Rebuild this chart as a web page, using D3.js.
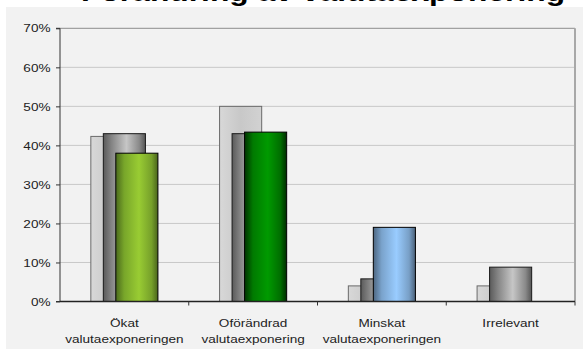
<!DOCTYPE html>
<html>
<head>
<meta charset="utf-8">
<script src="https://cdn.jsdelivr.net/npm/d3@7"></script>
<style>
  html, body { margin: 0; padding: 0; background: #ffffff; }
  svg { display: block; font-family: Arial, "Liberation Sans", sans-serif; }
</style>
</head>
<body>
<svg id="chart" width="583" height="352"></svg>
<script>
// Chart data
const title = "Förändring av valutaexponering";
const categories = ["Ökat valutaexponeringen", "Oförändrad valutaexponering", "Minskat valutaexponeringen", "Irrelevant"];
const categoryLines = [
  ["Ökat", "valutaexponeringen"],
  ["Oförändrad", "valutaexponering"],
  ["Minskat", "valutaexponeringen"],
  ["Irrelevant"]
];
const seriesNames = ["s1", "s2", "s3"];
const series1 = [0.423, 0.50, 0.04, 0.04];
const series2 = [0.43, 0.43, 0.058, 0.088];
const series3 = [0.38, 0.434, 0.19, 0];
const yTicks = [0, 0.1, 0.2, 0.3, 0.4, 0.5, 0.6, 0.7];

const svg = d3.select("#chart");
const W = 583, H = 352;
const plot = { left: 60, right: 575, top: 28.3, bottom: 301.5 };

// Gradients (cylinder shading, dark at both edges)
const defs = svg.append("defs");
function grad(id, stops) {
  const g = defs.append("linearGradient").attr("id", id)
    .attr("x1", "0%").attr("x2", "100%").attr("y1", "0%").attr("y2", "0%");
  stops.forEach(([o, c]) => g.append("stop").attr("offset", o).attr("stop-color", c));
}
grad("gLight", [[0, "#d8d8d8"], [0.5, "#c8c8c8"], [1, "#d2d2d2"]]);
grad("gGray", [[0, "#5a5a5a"], [0.2, "#858585"], [0.55, "#c6c6c6"], [0.85, "#8a8a8a"], [1, "#555555"]]);
grad("gLime", [[0, "#4b6a1c"], [0.2, "#78a62a"], [0.55, "#99cc33"], [0.85, "#76a02a"], [1, "#4a651b"]]);
grad("gGreen", [[0, "#003300"], [0.2, "#007a00"], [0.55, "#009a00"], [0.85, "#006e00"], [1, "#002d00"]]);
grad("gBlue", [[0, "#4d6680"], [0.2, "#7aa3cc"], [0.55, "#99ccff"], [0.85, "#789fc6"], [1, "#4a6078"]]);
const thirdFills = ["url(#gLime)", "url(#gGreen)", "url(#gBlue)", "url(#gGray)"];

// Background panel
svg.append("rect").attr("x", 6).attr("y", 7).attr("width", W - 6).attr("height", 342)
  .attr("fill", "#f2f2f2");

// Title (partly outside the top edge)
svg.append("text")
  .attr("transform", "translate(81,1) scale(1.2,1)")
  .attr("font-size", 26.5).attr("font-weight", "bold").attr("fill", "#000")
  .text(title);

// Scales
const x = d3.scaleBand().domain(categories).range([plot.left, plot.right]).padding(0);
const y = d3.scaleLinear().domain([0, 0.7]).range([plot.bottom, plot.top]);
const bw = x.bandwidth();
const barW = bw * 0.327;
const offset = d3.scalePoint().domain(seriesNames).range([-bw * 0.097, bw * 0.097]);

// Gridlines
svg.append("g").selectAll("line").data(yTicks.filter(t => t > 0 && t < 0.7)).join("line")
  .attr("x1", plot.left).attr("x2", plot.right)
  .attr("y1", d => y(d)).attr("y2", d => y(d))
  .attr("stroke", "#c8c8c8").attr("stroke-width", 1);

// Frame top & right
svg.append("line").attr("x1", plot.left).attr("x2", plot.right)
  .attr("y1", y(0.7)).attr("y2", y(0.7)).attr("stroke", "#8c8c8c").attr("stroke-width", 1);
svg.append("line").attr("x1", plot.right).attr("x2", plot.right)
  .attr("y1", y(0.7)).attr("y2", plot.bottom).attr("stroke", "#a8a8a8").attr("stroke-width", 2);

// Bars
const seriesData = [
  { key: "s1", values: series1, fill: () => "url(#gLight)", stroke: "#6a6a6a" },
  { key: "s2", values: series2, fill: () => "url(#gGray)", stroke: "#1a1a1a" },
  { key: "s3", values: series3, fill: i => thirdFills[i], stroke: "#000" }
];
seriesData.forEach(s => {
  svg.append("g").selectAll("rect")
    .data(categories.map((c, i) => ({ c, i, v: s.values[i] })).filter(d => d.v > 0))
    .join("rect")
    .attr("x", d => x(d.c) + bw / 2 + offset(s.key) - barW / 2)
    .attr("y", d => y(d.v))
    .attr("width", barW)
    .attr("height", d => y(0) - y(d.v))
    .attr("fill", d => s.fill(d.i))
    .attr("stroke", s.stroke).attr("stroke-width", 1);
});

// Y axis
const yAxis = d3.axisLeft(y).tickValues(yTicks).tickFormat(d3.format(".0%")).tickSize(4).tickPadding(7);
const gy = svg.append("g").attr("transform", `translate(${plot.left},0)`).call(yAxis);
gy.select(".domain").attr("stroke", "#333").attr("d", `M-4,${plot.top}H0V${plot.bottom}H-4`);
gy.selectAll(".tick line").attr("stroke", "#333");
gy.selectAll(".tick text").attr("font-size", 11.5).attr("fill", "#222")
  .attr("font-family", "Arial, 'Liberation Sans', sans-serif")
  .attr("transform", "scale(1.18,1)").attr("x", -9.5 / 1.18);

// X axis
const xAxis = d3.axisBottom(x).tickSize(0).tickFormat("");
const gx = svg.append("g").attr("transform", `translate(0,${plot.bottom})`).call(xAxis);
gx.select(".domain").attr("stroke", "#222").attr("stroke-width", 1.6).attr("d", `M${plot.left},0H${plot.right}`);
gx.selectAll(".bound").data(categories).join("line")
  .attr("x1", d => x(d) + bw).attr("x2", d => x(d) + bw)
  .attr("y1", 0).attr("y2", 4).attr("stroke", "#333");

// Category labels
const lab = svg.append("g");
categories.forEach((c, i) => {
  const cx = x(c) + bw / 2;
  categoryLines[i].forEach((line, j) => {
    lab.append("text")
      .attr("transform", `translate(${cx},${327 + j * 16}) scale(1.18,1)`)
      .attr("text-anchor", "middle").attr("font-size", 11.5).attr("fill", "#222")
      .text(line);
  });
});
</script>
</body>
</html>
